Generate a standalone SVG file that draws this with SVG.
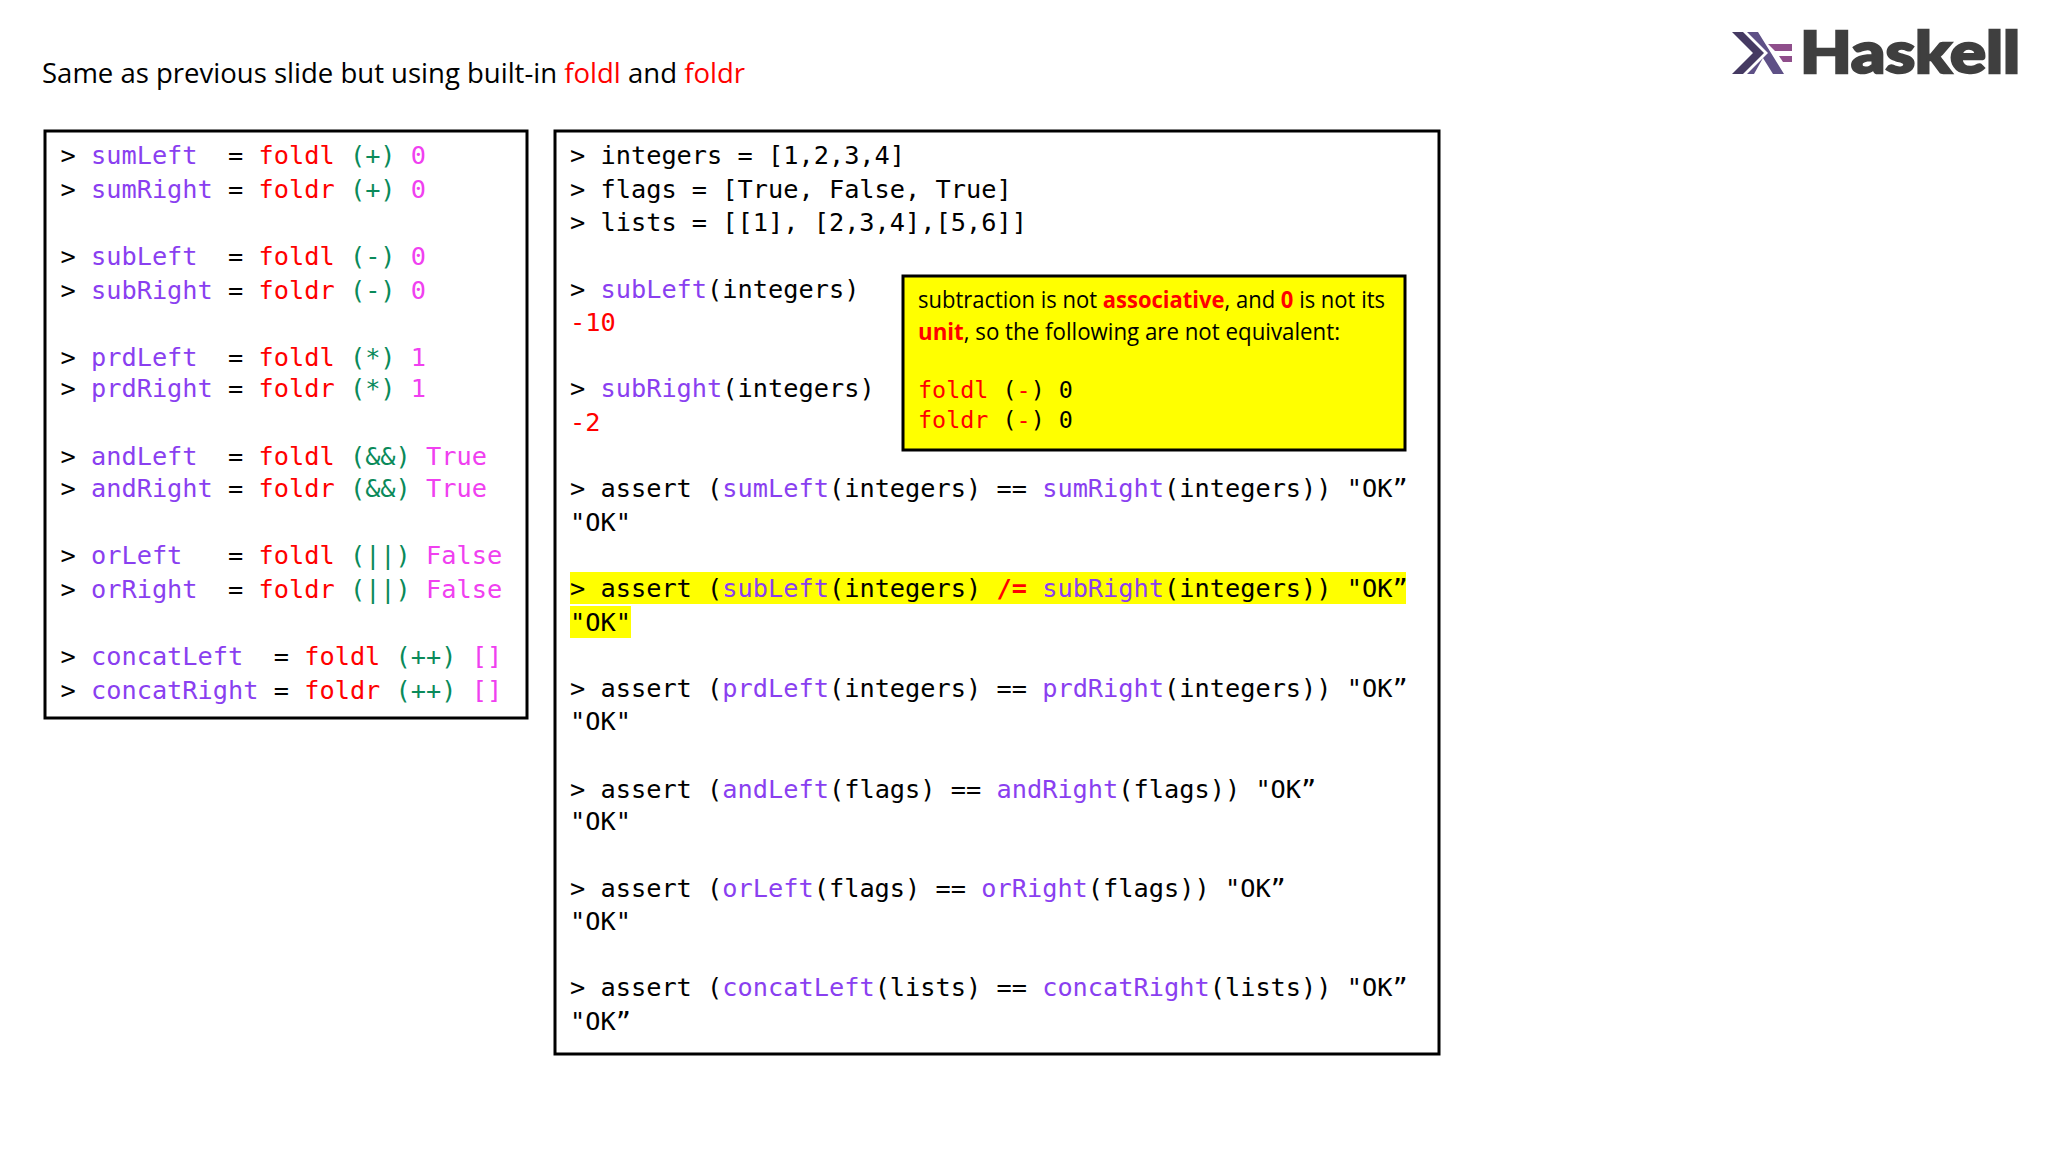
<svg xmlns="http://www.w3.org/2000/svg" width="2048" height="1152" viewBox="0 0 2048 1152">
<style>
text{white-space:pre}
.c{font-family:"DejaVu Sans Mono","Liberation Mono",monospace;font-size:25.3px;fill:#000}
.p{fill:#8a3ff0}.r{fill:#f00}.g{fill:#0a8a5a}.m{fill:#f040f0}.b{font-weight:700}
.box{fill:#fff;stroke:#000;stroke-width:3}
.t{font-family:"Open Sans","Liberation Sans",sans-serif;font-size:27px;fill:#000}
.n{font-family:"Open Sans","Liberation Sans",sans-serif;font-size:23px;fill:#000}
.s{font-size:23.4px}
</style>
<rect width="2048" height="1152" fill="#fff"/>
<g id="title"><text class="t" x="42" y="83" textLength="703" lengthAdjust="spacingAndGlyphs">Same as previous slide but using built-in <tspan class="r">foldl</tspan> and <tspan class="r">foldr</tspan></text></g>
<g id="logo">
<polygon fill="#453a62" points="1732,74 1753,53 1732,32 1743,32 1764,53 1743,74"/>
<polygon fill="#5e5086" points="1747,74 1768,53 1747,32 1758,32 1784,74 1773,74 1763,58 1754,74"/>
<polygon fill="#8f4e8b" points="1768,44 1792,44 1792,51 1775,51"/>
<polygon fill="#8f4e8b" points="1779,56 1792,56 1792,62 1783,62"/>
<text x="1800" y="73" textLength="220" lengthAdjust="spacingAndGlyphs" style="font-family:Lato,'Open Sans',sans-serif;font-weight:900;font-size:57px;fill:#3f3f3f;stroke:#3f3f3f;stroke-width:2.4">Haskell</text>
</g>
<g id="definitions">
<rect class="box" x="45" y="131" width="482" height="587"/>
<g transform="translate(-1.5,0.2)">
<text class="c" x="62" y="164">&gt; <tspan class="p">sumLeft</tspan>  = <tspan class="r">foldl</tspan> <tspan class="g">(+)</tspan> <tspan class="m">0</tspan></text>
<text class="c" x="62" y="198">&gt; <tspan class="p">sumRight</tspan> = <tspan class="r">foldr</tspan> <tspan class="g">(+)</tspan> <tspan class="m">0</tspan></text>
<text class="c" x="62" y="265">&gt; <tspan class="p">subLeft</tspan>  = <tspan class="r">foldl</tspan> <tspan class="g">(-)</tspan> <tspan class="m">0</tspan></text>
<text class="c" x="62" y="299">&gt; <tspan class="p">subRight</tspan> = <tspan class="r">foldr</tspan> <tspan class="g">(-)</tspan> <tspan class="m">0</tspan></text>
<text class="c" x="62" y="366">&gt; <tspan class="p">prdLeft</tspan>  = <tspan class="r">foldl</tspan> <tspan class="g">(*)</tspan> <tspan class="m">1</tspan></text>
<text class="c" x="62" y="397">&gt; <tspan class="p">prdRight</tspan> = <tspan class="r">foldr</tspan> <tspan class="g">(*)</tspan> <tspan class="m">1</tspan></text>
<text class="c" x="62" y="465">&gt; <tspan class="p">andLeft</tspan>  = <tspan class="r">foldl</tspan> <tspan class="g">(&amp;&amp;)</tspan> <tspan class="m">True</tspan></text>
<text class="c" x="62" y="497">&gt; <tspan class="p">andRight</tspan> = <tspan class="r">foldr</tspan> <tspan class="g">(&amp;&amp;)</tspan> <tspan class="m">True</tspan></text>
<text class="c" x="62" y="564">&gt; <tspan class="p">orLeft</tspan>   = <tspan class="r">foldl</tspan> <tspan class="g">(||)</tspan> <tspan class="m">False</tspan></text>
<text class="c" x="62" y="598">&gt; <tspan class="p">orRight</tspan>  = <tspan class="r">foldr</tspan> <tspan class="g">(||)</tspan> <tspan class="m">False</tspan></text>
<text class="c" x="62" y="665">&gt; <tspan class="p">concatLeft</tspan>  = <tspan class="r">foldl</tspan> <tspan class="g">(++)</tspan> <tspan class="m">[]</tspan></text>
<text class="c" x="62" y="699">&gt; <tspan class="p">concatRight</tspan> = <tspan class="r">foldr</tspan> <tspan class="g">(++)</tspan> <tspan class="m">[]</tspan></text>
</g>
</g>
<g id="session">
<rect class="box" x="555" y="131" width="884" height="923"/>
<rect x="570" y="572" width="836" height="32" fill="#ff0"/>
<rect x="570" y="606" width="61" height="32" fill="#ff0"/>
<g transform="translate(-1,0.2)">
<text class="c" x="571" y="164">&gt; integers = [1,2,3,4]</text>
<text class="c" x="571" y="198">&gt; flags = [True, False, True]</text>
<text class="c" x="571" y="231">&gt; lists = [[1], [2,3,4],[5,6]]</text>
<text class="c" x="571" y="298">&gt; <tspan class="p">subLeft</tspan>(integers)</text>
<text class="c r" x="571" y="331">-10</text>
<text class="c" x="571" y="397">&gt; <tspan class="p">subRight</tspan>(integers)</text>
<text class="c r" x="571" y="431">-2</text>
<text class="c" x="571" y="497">&gt; assert (<tspan class="p">sumLeft</tspan>(integers) == <tspan class="p">sumRight</tspan>(integers)) "OK”</text>
<text class="c" x="571" y="531">"OK"</text>
<text class="c" x="571" y="597">&gt; assert (<tspan class="p">subLeft</tspan>(integers) <tspan class="r b">/=</tspan> <tspan class="p">subRight</tspan>(integers)) "OK”</text>
<text class="c" x="571" y="631">"OK"</text>
<text class="c" x="571" y="697">&gt; assert (<tspan class="p">prdLeft</tspan>(integers) == <tspan class="p">prdRight</tspan>(integers)) "OK”</text>
<text class="c" x="571" y="730">"OK"</text>
<text class="c" x="571" y="798">&gt; assert (<tspan class="p">andLeft</tspan>(flags) == <tspan class="p">andRight</tspan>(flags)) "OK”</text>
<text class="c" x="571" y="830">"OK"</text>
<text class="c" x="571" y="897">&gt; assert (<tspan class="p">orLeft</tspan>(flags) == <tspan class="p">orRight</tspan>(flags)) "OK”</text>
<text class="c" x="571" y="930">"OK"</text>
<text class="c" x="571" y="996">&gt; assert (<tspan class="p">concatLeft</tspan>(lists) == <tspan class="p">concatRight</tspan>(lists)) "OK”</text>
<text class="c" x="571" y="1030">"OK”</text>
</g>
</g>
<g id="note">
<rect x="903" y="276" width="502" height="174" fill="#ff0" stroke="#000" stroke-width="3"/>
<text class="n" x="918" y="308" textLength="467" lengthAdjust="spacingAndGlyphs">subtraction is not <tspan class="r b">associative</tspan>, and <tspan class="r b">0</tspan> is not its</text>
<text class="n" x="918" y="340" textLength="422" lengthAdjust="spacingAndGlyphs"><tspan class="r b">unit</tspan>, so the following are not equivalent:</text>
<text class="c s" x="918" y="398"><tspan class="r">foldl</tspan> (<tspan class="r">-</tspan>) 0</text>
<text class="c s" x="918" y="428"><tspan class="r">foldr</tspan> (<tspan class="r">-</tspan>) 0</text>
</g>
</svg>
